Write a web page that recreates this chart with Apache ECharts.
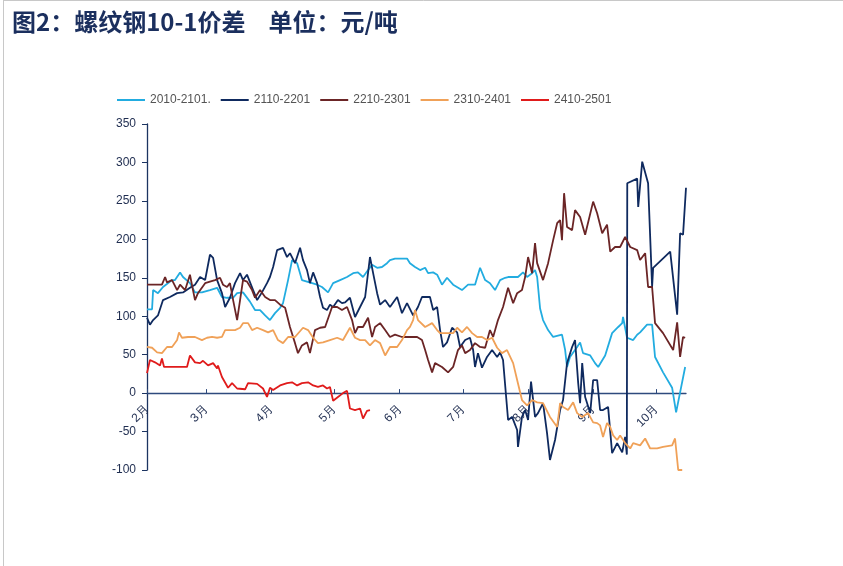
<!DOCTYPE html>
<html>
<head>
<meta charset="utf-8">
<script src="https://cdn.jsdelivr.net/npm/echarts@6/dist/echarts.min.js"></script>
<style>
html,body{margin:0;padding:0;background:#fff;}
#chart{width:843px;height:566px;}
</style>
</head>
<body>
<div id="chart"></div>
<script>
// x values: days counted from 1 Feb; y values: spread in 元/吨
var seriesNames = ['2010-2101.', '2110-2201', '2210-2301', '2310-2401', '2410-2501'];
var monthStarts = [0, 28, 59, 89, 120, 150, 181, 212, 242];
var monthLabels = ['2月', '3月', '4月', '5月', '6月', '7月', '8月', '9月', '10月'];
var yTicks = [-100, -50, 0, 50, 100, 150, 200, 250, 300, 350];

var s2010Days = [0,2.4,2.9,5.2,7.6,11.9,13.3,15.7,17.1,20.4,22.8,26.1,29.9,33.3,35.6,38,40.9,42.8,45.6,48.9,51.3,53.7,56.1,58.4,60.8,63.2,64.6,67,68.9,71.3,73.6,76,78.4,80.8,83.1,86,88.4,91.7,95,97.9,100.2,102.6,105,106.9,109.3,111.6,114,115.4,117.8,121.1,123.5,124.9,127.3,129.7,132.1,133.5,135.9,137.8,140.1,142.5,145.4,149.6,152.5,155.8,158.2,160.6,162.9,165.3,167.7,170.1,171.5,176.2,178.6,180.5,182.9,184.3,185.3,186.7,188.1,190.5,192.9,197.1,198.6,199.5,200.9,204.3,205.7,207.1,210.5,212.8,214.3,217.6,220.9,223.8,225.7,226.1,228,230.9,232.8,234.2,237.5,239.9,241.3,245.1,249.4,251.3,253.2,255.6];
var s2010Vals = [109,109,134,130,138,147,147,157,151,143,131,131,134,137,125,124,124,130,131,119,108,108,101,95,104,111,117,147,173,169,147,145,143,141,138,131,143,147,151,156,157,151,160,167,163,164,169,173,175,175,175,169,164,160,163,156,157,154,141,150,141,134,141,141,163,147,143,134,147,150,151,151,157,151,156,160,151,110,95,82,73,76,56,34,47,60,66,52,49,39,34,49,78,86,91,99,72,69,76,79,89,89,47,27,7,-25,1,34];

var s2110Days = [0,1.4,2.9,5.2,7.6,10.9,14.3,17.1,20.4,22.8,25.2,27.6,29.9,31.4,33.3,35.6,37.1,39.4,41.8,44.2,45.6,47.5,50.4,52.3,54.6,57,58.4,59.9,61.8,64.6,66.5,67.9,70.3,72.7,74.1,76,77.4,78.9,80.8,82.2,83.6,85.5,86.9,88.4,90.7,92.6,94.1,96.4,98.8,101.2,103.6,105.9,107.4,109.3,110.7,113.1,115.4,118.8,121.1,123.5,126.4,128.7,130.6,134.4,135.9,137.8,139.2,140.6,142.5,144.9,147.3,148.7,151.1,153.4,154.9,155.8,157.2,159.1,161.5,163.9,166.3,167.7,169.1,171.5,173.4,175.8,176.2,178.1,179.6,181,182.4,184.3,185.7,188.1,190,191.4,193.8,196.2,197.6,199.5,201.9,203.3,204.8,205.7,206.7,208.1,210.5,211.9,213.8,215.2,216.6,219,220.9,223.3,225.7,227.1,227.9,228.1,232.8,233.3,235.2,238,239.9,240.4,248.5,251.8,253.2,254.6,256];
var s2110Vals = [98,89,95,101,121,125,130,131,137,141,151,147,180,176,147,130,112,124,143,156,147,154,134,121,131,143,151,164,186,189,177,182,169,189,173,160,143,157,143,125,111,108,115,112,121,117,118,124,99,112,125,177,156,130,115,121,112,125,104,117,101,112,125,125,108,112,82,60,66,85,79,60,69,72,56,34,52,33,47,56,47,53,43,-35,-31,-48,-70,-31,-22,-35,15,-31,-26,-13,-52,-87,-61,-22,-9,39,60,69,13,-13,39,-5,-26,17,17,-22,-22,-18,-78,-65,-77,-57,-80,273,279,242,301,273,138,163,184,102,208,206,267];

var s2210Days = [0,7.1,8.6,9.5,11.9,14.3,15.7,18.1,20.4,22.8,24.2,27.6,29.9,32.3,34.7,36.1,38,39.4,40.9,42.8,44.2,45.6,47.5,49.9,51.3,53.7,56.1,58.4,60.8,63.2,65.6,67.9,70.3,71.7,73.6,76,77.4,79.8,82.2,84.6,87.9,90.3,92.6,95,97.4,98.8,100.2,102.6,105,106.9,108.3,110.7,113.1,115.4,117.8,121.1,123.5,125.9,128.3,130.6,132.1,133.5,135.4,136.8,140.1,143,145.4,147.7,149.6,151.1,153.4,155.8,158.2,160.6,162.9,164.4,166.7,169.1,171.5,173.9,175.8,178.1,179.6,181,182.9,184.3,185.3,188.1,190.5,192.9,194.8,196.2,197.1,198.1,199.5,201.9,203.3,205.7,208.1,211.9,213.8,216.2,218.5,220,222.3,224.7,227.1,229.5,232.8,234.2,236.6,238,239.9,241.3,245.1,249.9,251.8,253.2,254.6,255.6];
var s2210Vals = [141,141,151,144,147,134,141,134,154,121,130,143,145,147,150,141,138,143,121,95,121,147,145,134,124,134,125,121,121,115,111,86,65,52,62,66,52,82,85,86,112,112,108,112,95,78,86,86,98,73,86,91,82,73,76,73,73,73,73,69,56,43,27,39,34,27,34,56,62,52,56,65,60,59,82,73,95,112,137,117,130,134,151,177,156,195,169,147,169,199,221,225,199,260,216,212,238,229,206,249,234,208,219,184,190,190,203,190,186,173,182,138,138,91,78,56,92,47,73,72];

var s2310Days = [0,2.4,4.8,7.1,9.5,11.9,14.3,15.2,16.6,19.5,22.8,26.1,28.5,30.9,33.3,35.6,37.1,39.4,41.8,44.2,45.6,48,49.9,52.3,55.1,57.5,59.9,62.2,64.6,67,70.3,74.1,76.5,78.9,81.2,83.6,86.9,90.3,93.1,96.4,98.8,101.2,103.6,105.9,108.3,110.7,113.1,115.4,118.8,121.1,123.5,124.9,126.4,127.3,128.7,132.1,135.4,137.8,139.2,145.4,147.3,149.6,152,154.4,156.8,159.1,161.5,163.9,166.3,168.6,171,173.9,175.8,178.1,180.5,182.9,185.3,188.1,191.4,194.8,196.2,197.6,200,202.4,204.3,206.7,209.5,211.9,213.8,215.2,216.6,218.5,220,221.4,223.3,224.7,227.1,229.5,230.9,234.2,236.6,239,242.3,245.1,249.4,250.8,252.3,254.2];
var s2310Vals = [60,59,53,52,60,60,69,79,72,73,73,69,72,73,72,73,82,82,82,85,91,91,82,85,82,79,82,69,65,73,73,85,82,72,65,66,69,72,69,85,72,69,69,62,69,65,49,60,60,69,82,86,95,108,95,86,91,82,78,78,85,79,86,78,73,73,69,72,59,52,56,39,17,-9,-16,-9,-12,-13,-31,-44,-13,-18,-22,-12,-26,-31,-26,-38,-39,-42,-57,-39,-44,-55,-61,-55,-65,-72,-65,-68,-59,-72,-72,-70,-68,-59,-100,-100];

var s2410Days = [0,1.4,3.8,6.2,7.1,8.1,10.9,17.1,19,20.4,22.8,25.2,26.6,29,31.4,33.3,33.7,35.6,38.5,40.4,42.8,46.6,48,52.3,55.1,57,58.4,59.9,63.2,66.5,68.9,71.3,73.6,76.5,78.9,81.2,83.6,85.5,86.9,88.4,90.7,93.1,95,96.4,98.8,101.2,102.6,104.5,105.9];
var s2410Vals = [26,43,40,36,45,34,34,34,34,49,40,39,42,36,39,32,36,21,7,13,6,5,13,12,6,-5,7,4,10,13,14,10,13,14,10,8,10,6,8,-10,-5,0,3,-20,-22,-20,-33,-23,-22];

var seriesColors = ['#22ace0', '#0f2a5f', '#6b2526', '#f0a158', '#e01b1b'];

function zip(d, v) { return d.map(function (x, i) { return [x, v[i]]; }); }
var allData = [zip(s2010Days, s2010Vals), zip(s2110Days, s2110Vals), zip(s2210Days, s2210Vals), zip(s2310Days, s2310Vals), zip(s2410Days, s2410Vals)];

var gridTop = 124, gridH = 346;
var yMin = yTicks[0], yMax = yTicks[yTicks.length - 1];
// move the x axis (line, ticks, labels) from the grid bottom up to the zero line
var zeroOffset = -gridH * (0 - yMin) / (yMax - yMin);

var chart = echarts.init(document.getElementById('chart'), null, { renderer: 'canvas' });
var option = {
  backgroundColor: '#ffffff',
  animation: false,
  title: {
    text: '{a|图2：螺纹钢10-1价差  }{b|单位：元/吨}',
    left: 7,
    top: 5,
    textStyle: {
      rich: {
        a: { fontFamily: 'Noto Sans CJK SC', fontSize: 24, fontWeight: 'bold', color: '#1b2f5e', padding: [0, 12, 0, 0] },
        b: { fontFamily: 'Noto Sans CJK SC', fontSize: 24, fontWeight: 'bold', color: '#1b2f5e' }
      }
    }
  },
  graphic: [
    { type: 'line', shape: { x1: 3.5, y1: 0, x2: 3.5, y2: 566 }, style: { stroke: '#c8c8c8', lineWidth: 1 } },
    { type: 'line', shape: { x1: 3.5, y1: 0.5, x2: 843, y2: 0.5 }, style: { stroke: '#c8c8c8', lineWidth: 1 } }
  ],
  legend: {
    left: 112,
    top: 89,
    icon: 'rect',
    itemWidth: 28,
    itemHeight: 2,
    itemGap: 10,
    textStyle: { fontFamily: 'Liberation Sans', fontSize: 12, color: '#545454', padding: [0, 0, 0, 0] },
    data: seriesNames
  },
  grid: { left: 147, top: gridTop, width: 539, height: gridH, containLabel: false },
  xAxis: {
    type: 'value',
    min: 0,
    max: 256,
    offset: zeroOffset,
    splitLine: { show: false },
    axisLine: { onZero: false, lineStyle: { color: '#2e4a7d', width: 1.3 } },
    axisTick: { show: true, inside: true, length: 4, customValues: monthStarts, lineStyle: { color: '#2e4a7d' } },
    axisLabel: {
      rotate: 45,
      margin: 14,
      fontFamily: 'Liberation Sans',
      fontSize: 12,
      color: '#1f2d50',
      customValues: monthStarts,
      formatter: function (v) { var i = monthStarts.indexOf(v); return i >= 0 ? monthLabels[i] : ''; }
    }
  },
  yAxis: {
    type: 'value',
    min: yMin,
    max: yMax,
    interval: 50,
    splitLine: { show: false },
    axisLine: { show: true, onZero: false, lineStyle: { color: '#1c3461', width: 1.3 } },
    axisTick: { show: true, length: 5, lineStyle: { color: '#1c3461' } },
    axisLabel: { margin: 11, fontFamily: 'Liberation Sans', fontSize: 12, color: '#1f2d50' }
  },
  series: seriesNames.map(function (n, i) {
    return {
      name: n,
      type: 'line',
      data: allData[i],
      symbol: 'none',
      smooth: false,
      lineStyle: { color: seriesColors[i], width: 1.8 },
      itemStyle: { color: seriesColors[i] }
    };
  })
};
chart.setOption(option);
</script>
</body>
</html>
